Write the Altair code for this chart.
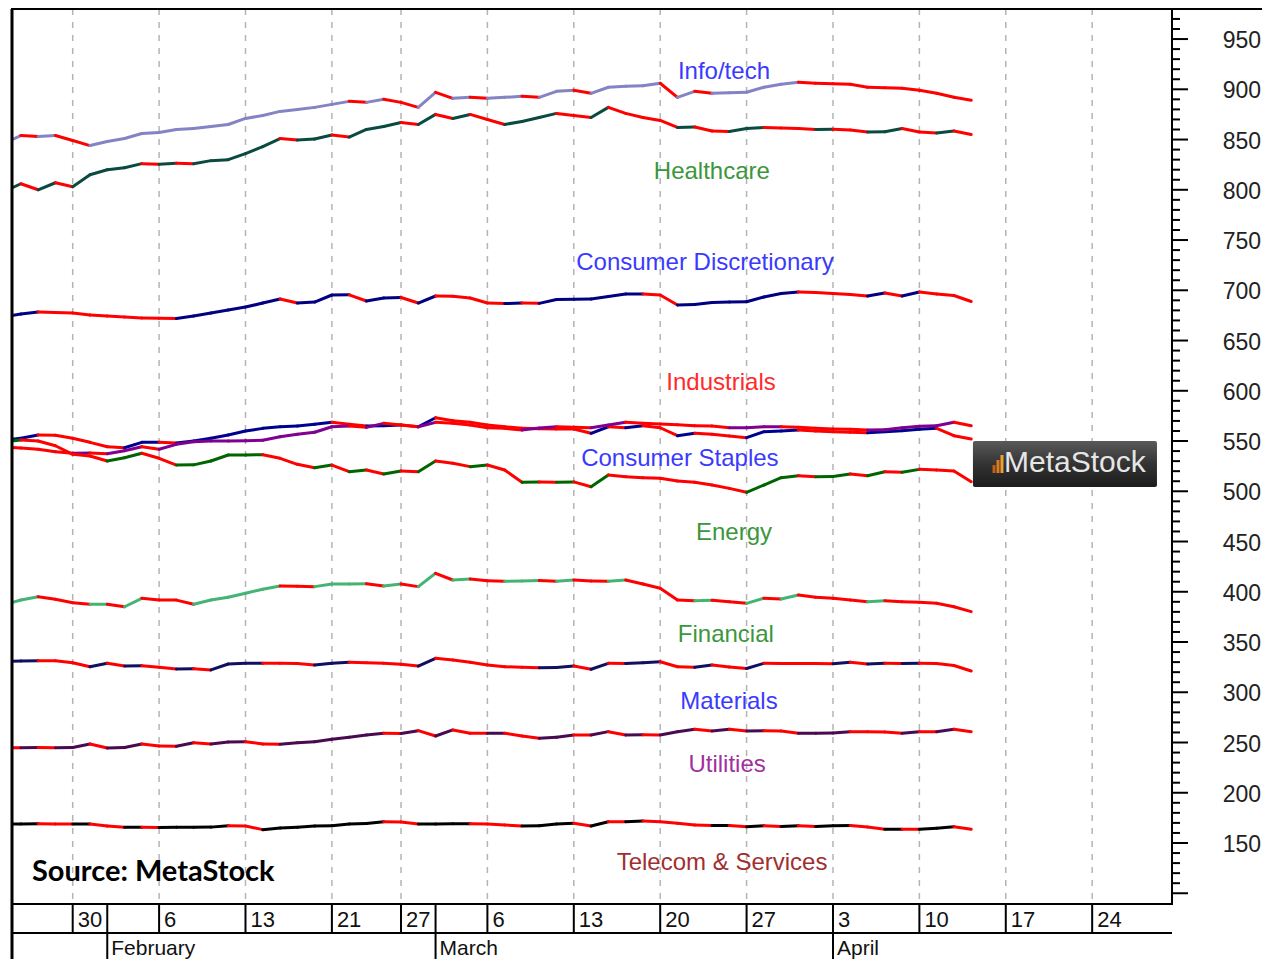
import altair as alt
import pandas as pd

# trading-session index: 0 = Mon 30 Jan 2017 (one entry per session, last = 13 Apr)
days = list(range(-4, 53))

info_tech = [846, 854, 853, 854, 849, 844, 848, 851, 856, 857, 860, 861, 863, 865, 871, 874, 878, 880, 882, 885,
             888, 887, 890, 887, 882, 897, 891, 892, 891, 892, 893, 892, 898, 899, 896, 902, 903, 903.5, 906, 892,
             898, 896, 896.5, 897, 902, 905, 907, 906, 905.5, 905, 902, 901.5, 901, 899, 896, 892, 889]
healthcare = [798, 806, 800, 807, 803, 815, 820, 822, 826, 825.5, 826.5, 826, 829, 830, 836, 843, 851, 849.5, 850.5,
              854.5, 852.5, 860, 863, 867, 865, 875, 871, 875, 870, 865, 868, 872, 876, 874, 872, 882, 876, 872, 869,
              862, 862.5, 858.5, 858, 861, 862, 861.5, 861, 860, 860.2, 859.5, 857.5, 857.7, 861, 857.5, 856.5, 858.5, 855]
cons_disc = [673.4, 676.4, 678.4, 677.9, 677.4, 675.4, 674.4, 673.4, 672.4, 672.1, 671.9, 674.4, 677.4, 680.4, 683.3,
             687.3, 691.3, 687.3, 688.3, 695.3, 695.5, 689.3, 692.3, 692.8, 687.3, 694.3, 694.0, 692.3, 687.3, 686.8,
             687.3, 687.0, 690.8, 691.0, 691.3, 693.8, 696.3, 696.4, 695.3, 685.3, 685.8, 687.8, 688.3, 688.6, 693.3,
             696.8, 698.3, 697.8, 696.8, 695.8, 694.3, 697.3, 694.3, 698.3, 696.3, 694.8, 688.8]
industrials = [551, 552.7, 556, 555.7, 552.7, 548.7, 544.3, 543.3, 548.7, 548.8, 548, 550, 552.7, 556, 559.9, 562.6,
               564.2, 564.9, 566.6, 568.6, 566.6, 564.9, 565.2, 565.9, 564.2, 573.2, 570.2, 568.6, 566, 564.2, 562.6,
               562.3, 562.0, 561.9, 557.7, 564.2, 563.2, 565.2, 563.2, 555.3, 557.7, 556.7, 555, 553.3, 559.3, 559.9,
               560.9, 559.9, 559.3, 558.7, 558.2, 559.3, 560.3, 561.7, 562.6, 555.3, 552]
cons_staples = [544, 543, 541.8, 539.4, 537.8, 538.0, 537.4, 540.4, 544.3, 541.8, 546.7, 549.3, 550, 550.1, 550.3,
                550.7, 554.3, 556.7, 558.7, 564.2, 564.9, 563.6, 567.6, 565.9, 564.2, 568.6, 567.6, 565.9, 563.2,
                562.6, 560.9, 562.9, 564.2, 563.6, 563.2, 565.9, 568.6, 567.6, 566.9, 566.2, 565.2, 564.9, 563.2,
                563.3, 564.2, 564.3, 563.6, 562.6, 561.9, 561.7, 560.9, 561.2, 563.2, 564.6, 565.2, 568.6, 565.2]
energy = [549, 551, 550, 545.3, 536.8, 535.1, 530.1, 533.4, 537.8, 532.8, 526.1, 526.3, 530.1, 536.1, 536.2, 536.3,
          532.8, 526.8, 523.4, 526.1, 519.5, 521.2, 517.2, 520.2, 519.5, 530.1, 527.8, 524.5, 526.1, 521.2, 508.9,
          509.2, 509.0, 509.3, 504.5, 516.2, 514.5, 513.5, 512.9, 510.2, 508.9, 506.2, 502.9, 499, 506.2, 513.5,
          515.5, 514.5, 514.8, 517.2, 515.5, 519.5, 518.9, 521.8, 521.2, 520.2, 509.5]
financial = [387, 391.8, 395.1, 392.5, 389.1, 387.5, 387.6, 385.1, 393.5, 391.8, 391.7, 387.5, 391.8, 394.5, 398.5,
             402.5, 405.7, 405.6, 405.1, 407.7, 407.8, 407.9, 405.7, 407.7, 405.1, 418.4, 411.7, 412.7, 411, 410.5,
             410.7, 411.2, 410.4, 411.7, 410.7, 410.4, 411.7, 407.7, 403.5, 391.8, 391.1, 391.5, 390.1, 388.5, 393.5,
             392.8, 396.8, 394.5, 393.5, 391.8, 390.1, 391.1, 390.1, 389.5, 388.5, 385.1, 380.2]
materials = [330.8, 331.1, 331.4, 331.3, 329.4, 325.4, 328.8, 326.1, 326.4, 324.8, 323.2, 323.3, 322.2, 328.1, 328.8,
             328.9, 328.8, 328.7, 327.1, 328.8, 329.8, 329.4, 328.8, 327.8, 326.1, 333.8, 332.1, 329.8, 327.1, 325.4,
             324.8, 324.4, 324.6, 326.1, 322.9, 328.8, 328.6, 329.4, 330.4, 325.4, 324.8, 327.1, 325.1, 323.6, 328.8,
             328.7, 328.6, 328.5, 328.4, 329.8, 328.1, 328.8, 328.7, 328.8, 328.7, 326.6, 321.2]
utilities = [244.8, 244.7, 245.0, 244.8, 245.0, 248.5, 244.5, 245.0, 248.5, 246.5, 246.2, 249.8, 248.5, 250.5, 250.8,
             248.5, 248.3, 249.8, 250.8, 253.2, 255.2, 257.5, 259.2, 259.0, 261.8, 256.5, 262.5, 259.2, 259.1, 259.3,
             256.5, 254.2, 255.2, 257.5, 257.4, 260.8, 257.5, 257.6, 257.5, 260.8, 263.2, 261.5, 263.2, 261.5, 261.6,
             261.5, 259.2, 259.3, 259.4, 260.8, 260.7, 260.5, 259.2, 260.8, 260.7, 263.2, 260.8]
telecom = [168.9, 169.0, 169.1, 168.9, 168.8, 168.9, 166.9, 165.6, 165.7, 165.5, 165.6, 165.7, 165.8, 167.2, 166.9,
           163.3, 164.9, 165.6, 166.9, 167.2, 168.9, 169.4, 171.2, 170.9, 168.9, 169.0, 169.1, 169.2, 168.9, 167.9,
           166.9, 167.2, 168.9, 169.6, 166.9, 171.2, 171.1, 172.0, 171.2, 169.6, 167.9, 167.3, 167.4, 166.2, 167.2,
           166.4, 167.2, 166.4, 167.2, 167.3, 166.0, 163.6, 163.7, 163.6, 164.7, 166.2, 163.6]

series_names = ["Info/tech", "Healthcare", "Consumer Discretionary", "Industrials", "Consumer Staples",
                "Energy", "Financial", "Materials", "Utilities", "Telecom & Services"]
series_values = [info_tech, healthcare, cons_disc, industrials, cons_staples,
                 energy, financial, materials, utilities, telecom]
series_colors = ["#8484C4", "#0A4A40", "#000080", "#000090", "#800090",
                 "#006400", "#44B474", "#101060", "#4A0A50", "#000000"]
DOWN = "#FF0000"

# name labels drawn on the chart (trading-day index, value)
label_x = [37.69, 36.99, 36.59, 37.52, 35.14, 38.27, 37.8, 37.98, 37.87, 37.58]
label_y = [917.2, 817.7, 727.1, 607.7, 532.1, 458.5, 357.0, 290.3, 227.6, 130.1]
label_colors = ["#3A3AFF", "#3C963C", "#3A3AFF", "#FF2A2A", "#3A3AFF",
                "#3C963C", "#3C963C", "#3A3AFF", "#A030A0", "#A03030"]

tick_days = [0, 5, 10, 15, 19, 24, 29, 34, 39, 44, 49, 54, 59]
tick_labels = ["30", "6", "13", "21", "27", "6", "13", "20", "27", "3", "10", "17", "24"]
month_days = [2, 21, 44]
month_labels = ["February", "March", "April"]

y_major = list(range(100, 951, 50))
y_labels = list(range(150, 951, 50))
y_minor = [v for v in range(100, 990, 10) if v % 50]

W, H = 1160, 895
xs = alt.Scale(domain=[-3.513, 63.62], nice=False, zero=False)
ys = alt.Scale(domain=[89.3, 979.9], nice=False, zero=False)
FONT = "Liberation Sans"


def X(f):
    return alt.X(f, scale=xs, axis=None)


def Y(f):
    return alt.Y(f, scale=ys, axis=None)


# ---- segments: red when the index fell from the previous session ----
rows = []
for name, vals, col in zip(series_names, series_values, series_colors):
    for k in range(1, len(vals)):
        rows.append(dict(series=name, x=days[k - 1], y=vals[k - 1], x2=days[k], y2=vals[k],
                         c=DOWN if vals[k] < vals[k - 1] else col))
seg = pd.DataFrame(rows)

grid = alt.Chart(pd.DataFrame({"d": tick_days})).mark_rule(
    color="#b4b4b4", strokeWidth=1.5, strokeDash=[6, 7]).encode(x=X("d:Q"))

lines = alt.Chart(seg).mark_rule(strokeWidth=3, strokeCap="round", clip=True).encode(
    x=X("x:Q"), y=Y("y:Q"), x2="x2:Q", y2="y2:Q",
    color=alt.Color("c:N", scale=None), detail="series:N")

# ---- right value axis ----
major = alt.Chart(pd.DataFrame({"v": y_major})).mark_rule(color="black", strokeWidth=2).encode(
    y=Y("v:Q"), x=alt.value(W), x2=alt.value(W + 16))
minor = alt.Chart(pd.DataFrame({"v": y_minor})).mark_rule(color="black", strokeWidth=2).encode(
    y=Y("v:Q"), x=alt.value(W), x2=alt.value(W + 8))
ylab = alt.Chart(pd.DataFrame({"v": y_labels})).mark_text(
    font=FONT, fontSize=23, align="right", baseline="middle", dy=2, color="#222222").encode(
    y=Y("v:Q"), x=alt.value(W + 89), text=alt.Text("v:Q", format="d"))

labels = alt.Chart(pd.DataFrame({"x": label_x, "y": label_y, "t": series_names, "c": label_colors})).mark_text(
    font=FONT, fontSize=24, align="center", baseline="middle").encode(
    x=X("x:Q"), y=Y("y:Q"), text="t:N", color=alt.Color("c:N", scale=None))

# ---- date box under the plot ----
sep1 = alt.Chart(pd.DataFrame({"d": sorted(tick_days + month_days)})).mark_rule(
    color="black", strokeWidth=2).encode(x=X("d:Q"), y=alt.value(H), y2=alt.value(H + 29))
row_line = alt.Chart(pd.DataFrame({"k": [0]})).mark_rule(color="black", strokeWidth=2).encode(
    x=alt.value(0), x2=alt.value(W), y=alt.value(H + 29))
sep2 = alt.Chart(pd.DataFrame({"d": month_days})).mark_rule(color="black", strokeWidth=2).encode(
    x=X("d:Q"), y=alt.value(H + 29), y2=alt.value(H + 70))
day_text = alt.Chart(pd.DataFrame({"d": tick_days, "t": tick_labels})).mark_text(
    font=FONT, fontSize=22, align="left", baseline="alphabetic", dx=5, color="#111111").encode(
    x=X("d:Q"), y=alt.value(H + 23), text="t:N")
month_text = alt.Chart(pd.DataFrame({"d": month_days, "t": month_labels})).mark_text(
    font=FONT, fontSize=21, align="left", baseline="alphabetic", dx=4, color="#111111").encode(
    x=X("d:Q"), y=alt.value(H + 51), text="t:N")

# ---- outer frame extensions ----
frame_left = alt.Chart(pd.DataFrame({"k": [0]})).mark_rule(color="black", strokeWidth=3).encode(
    x=alt.value(0), y=alt.value(0), y2=alt.value(H + 70))
frame_top = alt.Chart(pd.DataFrame({"k": [0]})).mark_rule(color="black", strokeWidth=2).encode(
    x=alt.value(0), x2=alt.value(W + 96), y=alt.value(0))

# ---- source note and logo ----
source = alt.Chart(pd.DataFrame({"x": [-2.36], "y": [112.5], "t": ["Source: MetaStock"]})).mark_text(
    font="Lato", fontWeight="bold", fontSize=29, align="left", baseline="alphabetic", color="black").encode(
    x=X("x:Q"), y=Y("y:Q"), text="t:N")

logo_box = alt.Chart(pd.DataFrame({"x": [52.1], "x2": [62.75], "y": [550.0], "y2": [504.2]})).mark_rect(
    cornerRadius=2,
    fill=alt.Gradient(gradient="linear", x1=0, y1=0, x2=0, y2=1,
                      stops=[alt.GradientStop(color="#5a5a5a", offset=0),
                             alt.GradientStop(color="#333333", offset=0.5),
                             alt.GradientStop(color="#1c1c1c", offset=1)])).encode(
    x=X("x:Q"), x2="x2:Q", y=Y("y:Q"), y2="y2:Q")
logo_bars = alt.Chart(pd.DataFrame({"x": [53.32, 53.55, 53.78], "y": [518.2, 518.2, 518.2],
                                    "y2": [526.1, 531.1, 536.1],
                                    "c": ["#c0601a", "#e07a20", "#f0a030"]})).mark_rule(strokeWidth=3).encode(
    x=X("x:Q"), y=Y("y:Q"), y2="y2:Q", color=alt.Color("c:N", scale=None))
logo_text = alt.Chart(pd.DataFrame({"x": [58.0], "y": [528.1], "t": ["MetaStock"]})).mark_text(
    font=FONT, fontSize=30, align="center", baseline="middle", color="#e6e6e6").encode(
    x=X("x:Q"), y=Y("y:Q"), text="t:N")

chart = alt.layer(
    grid, lines, major, minor, ylab, labels, sep1, row_line, sep2, day_text, month_text,
    frame_left, frame_top, source, logo_box, logo_bars, logo_text
).properties(
    width=W, height=H,
    padding={"left": 4, "top": 1, "right": 90, "bottom": 55},
    autosize=alt.AutoSizeParams(type="none"),
    background="white",
).configure_view(stroke="black", strokeWidth=2)

chart.save("out.html", embed_options={"renderer": "svg", "actions": False})
